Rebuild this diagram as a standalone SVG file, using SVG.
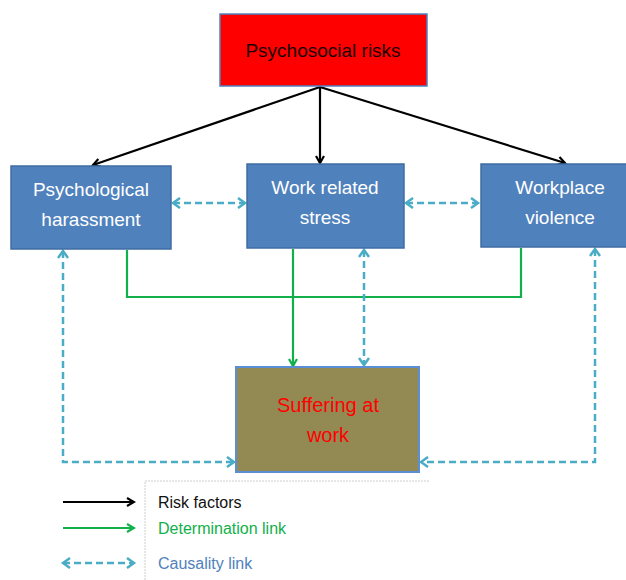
<svg xmlns="http://www.w3.org/2000/svg" width="626" height="580" viewBox="0 0 626 580">
<style>
.t{font-family:"Liberation Sans","Open Sans",sans-serif;font-size:19px;text-anchor:middle}
.w{fill:#fff}
.blue{fill:#4F81BD;stroke:#3F6CA3;stroke-width:1.5}
.blk{stroke:#000;stroke-width:2.2;fill:none}
.grn{stroke:#12B04A;stroke-width:2.2;fill:none}
.cau{stroke:#4BACC6;stroke-width:2.5;fill:none;stroke-dasharray:7,4}
.lg{font-family:"Liberation Sans","Open Sans",sans-serif;font-size:16px}
</style>
<defs>
<marker id="ab" markerWidth="10" markerHeight="10" refX="8" refY="5" orient="auto" markerUnits="userSpaceOnUse"><path d="M1,1 L8,5 L1,9" fill="none" stroke="#000" stroke-width="2.2"/></marker>
<marker id="ag" markerWidth="10" markerHeight="10" refX="8" refY="5" orient="auto" markerUnits="userSpaceOnUse"><path d="M1,1 L8,5 L1,9" fill="none" stroke="#12B04A" stroke-width="2.2"/></marker>
<marker id="ac" markerWidth="12" markerHeight="12" refX="9" refY="6" orient="auto-start-reverse" markerUnits="userSpaceOnUse"><path d="M2,1 L9,6 L2,11" fill="none" stroke="#4BACC6" stroke-width="2.5"/></marker>
</defs>
<g id="connectors">
<path class="blk" d="M320,87 L93,165" marker-end="url(#ab)"/>
<path class="blk" d="M320,87 L320,163" marker-end="url(#ab)"/>
<path class="blk" d="M320,87 L565,163" marker-end="url(#ab)"/>
<path class="grn" d="M127,250 V297 H521 V248"/>
<path class="grn" d="M293,249 V366" marker-end="url(#ag)"/>
<path class="cau" d="M173,203 H245" marker-start="url(#ac)" marker-end="url(#ac)"/>
<path class="cau" d="M406,203 H478" marker-start="url(#ac)" marker-end="url(#ac)"/>
<path class="cau" d="M364,250 V365" marker-start="url(#ac)" marker-end="url(#ac)"/>
<path class="cau" d="M63,251 V462 H234" marker-start="url(#ac)" marker-end="url(#ac)"/>
<path class="cau" d="M595,249 V462 H421" marker-start="url(#ac)" marker-end="url(#ac)"/>
</g>
<g id="psychosocial">
<rect x="220" y="14" width="207" height="72" fill="#FF0000" stroke="#4F81BD" stroke-width="1.5"/>
<text class="t" x="323" y="57" fill="#1a0000">Psychosocial risks</text>
</g>
<g id="harassment">
<rect class="blue" x="11" y="166" width="160" height="83"/>
<text class="t w" x="91" y="196">Psychological</text>
<text class="t w" x="91" y="226">harassment</text>
</g>
<g id="stress">
<rect class="blue" x="247" y="164" width="157" height="84"/>
<text class="t w" x="325" y="194">Work related</text>
<text class="t w" x="325" y="224">stress</text>
</g>
<g id="violence">
<rect class="blue" x="481" y="164" width="150" height="83"/>
<text class="t w" x="560" y="194">Workplace</text>
<text class="t w" x="560" y="224">violence</text>
</g>
<g id="suffering">
<rect x="236" y="367" width="183" height="105" fill="#938953" stroke="#5B8FD5" stroke-width="2"/>
<text class="t" x="328" y="412" fill="#FF0000" style="font-size:20px">Suffering at</text>
<text class="t" x="328" y="442" fill="#FF0000" style="font-size:20px">work</text>
</g>
<g id="legend">
<path d="M145,580 V481 H430" fill="none" stroke="#ccc" stroke-width="1" stroke-dasharray="2,1"/>
<path class="blk" d="M63,502 H134" marker-end="url(#ab)"/>
<path class="grn" d="M63,528 H134" marker-end="url(#ag)"/>
<path class="cau" d="M63,563 H134" stroke-dasharray="6,3" marker-start="url(#ac)" marker-end="url(#ac)"/>
<text class="lg" x="158" y="508" fill="#111">Risk factors</text>
<text class="lg" x="158" y="534" fill="#12B04A">Determination link</text>
<text class="lg" x="158" y="569" fill="#4F81BD">Causality link</text>
</g>
</svg>
